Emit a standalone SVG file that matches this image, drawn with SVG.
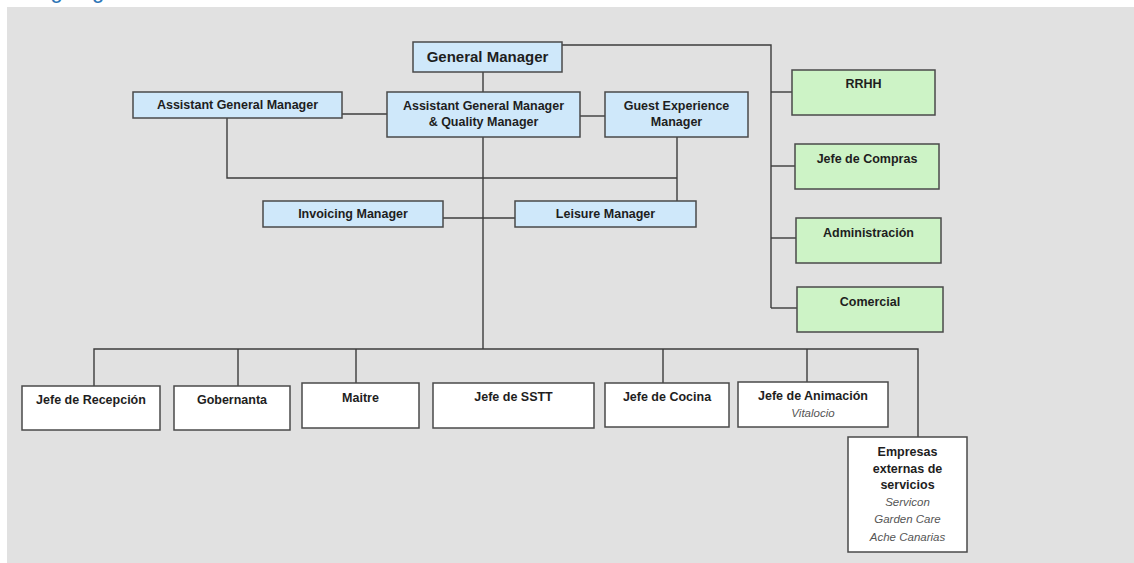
<svg xmlns="http://www.w3.org/2000/svg" width="1134" height="563" viewBox="0 0 1134 563">
<style>
.bg{fill:#e1e1e1}
.blue{fill:#cfe8fa;stroke:#4a4a4a;stroke-width:1.5}
.green{fill:#cdf3c6;stroke:#4a4a4a;stroke-width:1.5}
.white{fill:#ffffff;stroke:#4a4a4a;stroke-width:1.5}
.t{font-family:"Liberation Sans",Arial,sans-serif;font-weight:bold;font-size:12.5px;fill:#1e1e1e;text-anchor:middle}
.gm{font-size:15px}
.it{font-family:"Liberation Sans",Arial,sans-serif;font-style:italic;font-size:11.5px;fill:#555;text-anchor:middle}
.title{font-family:"Liberation Sans",Arial,sans-serif;font-size:22px;fill:#2e75b6}
.ln{fill:none;stroke:#3c3c3c;stroke-width:1.4}
</style>
<rect x="0" y="0" width="1134" height="563" fill="#ffffff"/>
<text class="title" x="26" y="-2">Organigrama del hotel</text>
<rect class="bg" x="7" y="7" width="1127" height="556"/>

<g id="connectors" class="ln">
  <path d="M483 72 V92"/>
  <path d="M342 114 H387"/>
  <path d="M580 116 H605"/>
  <path d="M562 45 H771 V308"/>
  <path d="M771 92 H792"/>
  <path d="M771 166 H795"/>
  <path d="M771 238 H796"/>
  <path d="M771 308 H797"/>
  <path d="M227 118 V178 H677"/>
  <path d="M677 137 V201"/>
  <path d="M483 137 V349"/>
  <path d="M443 218 H515"/>
  <path d="M94 386 V349 H918 V437"/>
  <path d="M238 349 V386"/>
  <path d="M356 349 V383"/>
  <path d="M663 349 V383"/>
  <path d="M807 349 V382"/>
</g>

<g id="general-manager"><rect class="blue" x="413" y="42" width="149" height="30"/><text class="t gm" x="487.5" y="62">General Manager</text></g>
<g id="assistant-gm"><rect class="blue" x="133" y="92" width="209" height="26"/><text class="t" x="237.5" y="109">Assistant General Manager</text></g>
<g id="assistant-gm-quality"><rect class="blue" x="387" y="92" width="193" height="45"/><text class="t" x="483.5" y="110">Assistant General Manager</text><text class="t" x="483.5" y="126">&amp; Quality Manager</text></g>
<g id="guest-experience"><rect class="blue" x="605" y="92" width="143" height="45"/><text class="t" x="676.5" y="110">Guest Experience</text><text class="t" x="676.5" y="126">Manager</text></g>
<g id="invoicing"><rect class="blue" x="263" y="201" width="180" height="26"/><text class="t" x="353" y="218">Invoicing Manager</text></g>
<g id="leisure"><rect class="blue" x="515" y="201" width="181" height="26"/><text class="t" x="605.5" y="218">Leisure Manager</text></g>

<g id="rrhh"><rect class="green" x="792" y="70" width="143" height="45"/><text class="t" x="863.5" y="88">RRHH</text></g>
<g id="jefe-compras"><rect class="green" x="795" y="144" width="144" height="45"/><text class="t" x="867" y="163">Jefe de Compras</text></g>
<g id="administracion"><rect class="green" x="796" y="218" width="145" height="45"/><text class="t" x="868.5" y="237">Administración</text></g>
<g id="comercial"><rect class="green" x="797" y="287" width="146" height="45"/><text class="t" x="870" y="306">Comercial</text></g>

<g id="jefe-recepcion"><rect class="white" x="22" y="386" width="138" height="44"/><text class="t" x="91" y="404">Jefe de Recepción</text></g>
<g id="gobernanta"><rect class="white" x="174" y="386" width="116" height="44"/><text class="t" x="232" y="404">Gobernanta</text></g>
<g id="maitre"><rect class="white" x="302" y="383" width="117" height="45"/><text class="t" x="360.5" y="402">Maitre</text></g>
<g id="jefe-sstt"><rect class="white" x="433" y="383" width="161" height="45"/><text class="t" x="513.5" y="401">Jefe de SSTT</text></g>
<g id="jefe-cocina"><rect class="white" x="605" y="383" width="124" height="44"/><text class="t" x="667" y="401">Jefe de Cocina</text></g>
<g id="jefe-animacion"><rect class="white" x="738" y="382" width="150" height="45"/><text class="t" x="813" y="400">Jefe de Animación</text><text class="it" x="813" y="417">Vitalocio</text></g>
<g id="empresas-externas"><rect class="white" x="848" y="437" width="119" height="115"/>
<text class="t" x="907.5" y="456">Empresas</text>
<text class="t" x="907.5" y="473">externas de</text>
<text class="t" x="907.5" y="489">servicios</text>
<text class="it" x="907.5" y="506">Servicon</text>
<text class="it" x="907.5" y="523">Garden Care</text>
<text class="it" x="907.5" y="541">Ache Canarias</text>
</g>
</svg>
